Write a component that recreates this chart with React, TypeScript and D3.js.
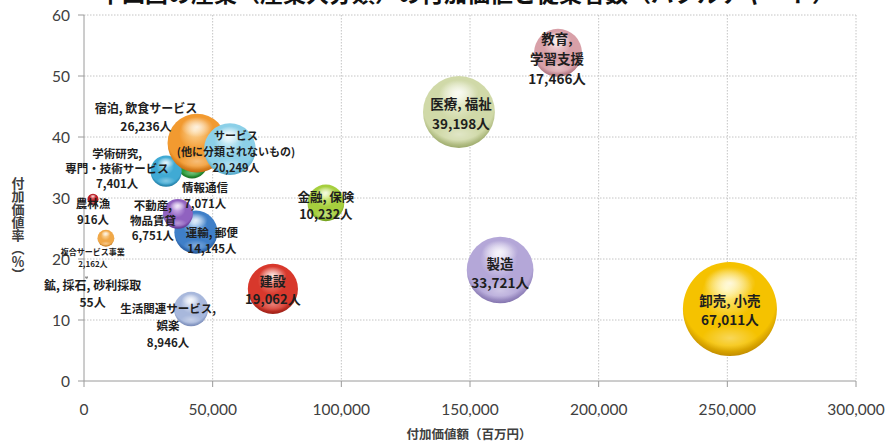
import React from "react";
import * as d3 from "d3";

// Industry data: value added (million yen), value-added ratio (%), employees
const industries = [
  "農林漁",
  "鉱, 採石, 砂利採取",
  "建設",
  "製造",
  "情報通信",
  "運輸, 郵便",
  "卸売, 小売",
  "金融, 保険",
  "不動産,\n物品賃貸",
  "学術研究,\n専門・技術サービス",
  "宿泊, 飲食サービス",
  "生活関連サービス,\n娯楽",
  "教育,\n学習支援",
  "医療, 福祉",
  "複合サービス事業",
  "サービス\n(他に分類されないもの)",
];
const valueAdded = [3500, 1000, 73400, 161700, 42000, 43500, 251000, 94000, 36500, 31900, 43900, 41600, 184200, 145700, 8500, 56700];
const valueRate = [29.8, 17.0, 15.1, 18.2, 35.7, 24.4, 11.8, 29.2, 27.4, 34.4, 39.0, 11.8, 53.8, 44.1, 23.4, 38.0];
const employees = [916, 55, 19062, 33721, 7071, 14145, 67011, 10232, 6751, 7401, 26236, 8946, 17466, 39198, 2162, 20249];

const xTicks = [0, 50000, 100000, 150000, 200000, 250000, 300000];
const yTicks = [0, 10, 20, 30, 40, 50, 60];

const titleText = "中四国の産業（産業大分類）の付加価値と従業者数（バブルチャート）";
const xTitle = "付加価値額（百万円）";
const yTitle = "付加価値率（％）";

// Sphere colours: [highlight, base, rim]
const palette: [string, string, string][] = [
  ["#f48888", "#b81c24", "#6a0a0e"],
  ["#bbbbbb", "#888888", "#555555"],
  ["#f7a496", "#d8382c", "#861810"],
  ["#ece6f8", "#b4a7d8", "#72629f"],
  ["#94de96", "#2e9e3c", "#125c1a"],
  ["#aed0f4", "#3f7fc8", "#1a4686"],
  ["#fff4a0", "#f5c200", "#b07a00"],
  ["#e4f6a0", "#a6cf3e", "#5a8a0e"],
  ["#d8bef0", "#9062c0", "#4c267c"],
  ["#aee2f4", "#40aad4", "#186a90"],
  ["#fddaa0", "#f29a30", "#b25a08"],
  ["#e8eef9", "#a8b8dc", "#6679aa"],
  ["#f5dde0", "#d8a0a8", "#98606c"],
  ["#f1f4dc", "#d0d9a8", "#8a9955"],
  ["#fde2b4", "#f0a848", "#aa6410"],
  ["#e2f5fb", "#8cd0e8", "#3a96bc"],
];

// Label placement relative to each bubble centre: [dx, dy, fontSize, lineHeight]
const labelLayout: [number, number, number, number][] = [
  [0, 4, 11.5, 16],
  [6, 7, 12, 17],
  [0, -8, 13, 18],
  [0, -7, 13.5, 19],
  [13, 24, 11.5, 16],
  [16, 0, 11.5, 16],
  [0, -9, 13.5, 19],
  [0, -6, 12.5, 17],
  [-25, -9, 11.5, 15],
  [-49, -18, 11.5, 15],
  [-51, -36, 12, 18],
  [-23, -1, 11.5, 17],
  [-1, -15, 13.5, 20],
  [2, -9, 13.5, 20],
  [-13, 13, 8, 12],
  [6, -14, 11, 16],
];

const W = 887;
const H = 443;
const jp = "'Noto Sans CJK JP', 'Noto Sans', sans-serif";
const num = "Lato, 'Open Sans', sans-serif";

export default function App() {
  const x = d3.scaleLinear().domain([0, 300000]).range([84, 856]);
  const y = d3.scaleLinear().domain([0, 60]).range([381, 15]);
  const r = d3.scaleSqrt().domain([0, 67011]).range([0, 47]);
  const fmt = d3.format(",");

  const bubbles = industries.map((name, i) => ({
    name,
    cx: x(valueAdded[i]),
    cy: y(valueRate[i]),
    rad: r(employees[i]),
    lines: [...name.split("\n"), `${fmt(employees[i])}人`],
    colors: palette[i],
    layout: labelLayout[i],
  }));

  return (
    <svg
      width={W}
      height={H}
      style={{ position: "absolute", left: 0, top: 0, background: "#fff" }}
    >
      <defs>
        {bubbles.map((b, i) => (
          <radialGradient
            key={i}
            id={`sphere${i}`}
            cx="0.5"
            cy="0.42"
            r="0.62"
            fx="0.46"
            fy="0.28"
          >
            <stop offset="0" stopColor={b.colors[0]} />
            <stop offset="0.45" stopColor={b.colors[1]} />
            <stop offset="0.8" stopColor={b.colors[1]} />
            <stop offset="1" stopColor={b.colors[2]} />
          </radialGradient>
        ))}
        <radialGradient id="gloss" cx="0.5" cy="0.5" r="0.5">
          <stop offset="0" stopColor="#fff" stopOpacity="0.75" />
          <stop offset="1" stopColor="#fff" stopOpacity="0" />
        </radialGradient>
        <radialGradient id="underglow" cx="0.5" cy="0.5" r="0.5">
          <stop offset="0" stopColor="#fff" stopOpacity="0.35" />
          <stop offset="1" stopColor="#fff" stopOpacity="0" />
        </radialGradient>
      </defs>

      {/* title (runs off the top edge) */}
      <text
        x={467}
        y={2}
        textAnchor="middle"
        fontFamily={jp}
        fontWeight={700}
        fontSize={23}
        fill="#111"
      >
        {titleText}
      </text>

      {/* grid */}
      {xTicks.slice(1).map((t) => (
        <line
          key={`gx${t}`}
          x1={x(t)}
          x2={x(t)}
          y1={y(60)}
          y2={y(0)}
          stroke="#c4c4c4"
          strokeDasharray="1.5,1.5"
        />
      ))}
      {yTicks.slice(1).map((t) => (
        <line
          key={`gy${t}`}
          x1={x(0)}
          x2={x(300000)}
          y1={y(t)}
          y2={y(t)}
          stroke="#c4c4c4"
          strokeDasharray="1.5,1.5"
        />
      ))}

      {/* axes */}
      <line x1={x(0)} x2={x(0)} y1={y(60)} y2={y(0)} stroke="#9a9a9a" />
      <line x1={x(0)} x2={x(300000)} y1={y(0)} y2={y(0)} stroke="#9a9a9a" />
      {yTicks.map((t) => (
        <g key={`yt${t}`}>
          <line x1={x(0) - 6} x2={x(0)} y1={y(t)} y2={y(t)} stroke="#9a9a9a" />
          <text
            x={70}
            y={y(t)}
            textAnchor="end"
            dominantBaseline="central"
            fontFamily={num}
            fontSize={15.5}
            fill="#404040"
          >
            {t}
          </text>
        </g>
      ))}
      {xTicks.map((t) => (
        <g key={`xt${t}`}>
          <line x1={x(t)} x2={x(t)} y1={y(0)} y2={y(0) + 6} stroke="#9a9a9a" />
          <text
            x={x(t)}
            y={409}
            textAnchor="middle"
            dominantBaseline="central"
            fontFamily={num}
            fontSize={15.5}
            fill="#404040"
          >
            {fmt(t)}
          </text>
        </g>
      ))}

      {/* axis titles */}
      <text
        x={469}
        y={433}
        textAnchor="middle"
        dominantBaseline="central"
        fontFamily={jp}
        fontWeight={700}
        fontSize={12.5}
        fill="#404040"
      >
        {xTitle}
      </text>
      <text
        x={18}
        y={177}
        style={{ writingMode: "vertical-rl" }}
        fontFamily={jp}
        fontWeight={700}
        fontSize={13}
        fill="#404040"
      >
        {yTitle}
      </text>

      {/* bubbles */}
      {bubbles.map((b, i) => (
        <g key={`b${i}`}>
          <circle cx={b.cx} cy={b.cy} r={b.rad} fill={`url(#sphere${i})`} />
          <ellipse
            cx={b.cx}
            cy={b.cy - b.rad * 0.55}
            rx={b.rad * 0.55}
            ry={b.rad * 0.35}
            fill="url(#gloss)"
          />
          <ellipse
            cx={b.cx}
            cy={b.cy + b.rad * 0.62}
            rx={b.rad * 0.6}
            ry={b.rad * 0.28}
            fill="url(#underglow)"
          />
        </g>
      ))}

      {/* labels */}
      {bubbles.map((b, i) => {
        const [dx, dy, fs, lh] = b.layout;
        return (
          <g key={`l${i}`}>
            {b.lines.map((line, j) => (
              <text
                key={j}
                x={b.cx + dx}
                y={b.cy + dy + j * lh}
                textAnchor="middle"
                dominantBaseline="central"
                fontFamily={jp}
                fontWeight={700}
                fontSize={fs}
                fill="#1e1e1e"
              >
                {line}
              </text>
            ))}
          </g>
        );
      })}
    </svg>
  );
}
